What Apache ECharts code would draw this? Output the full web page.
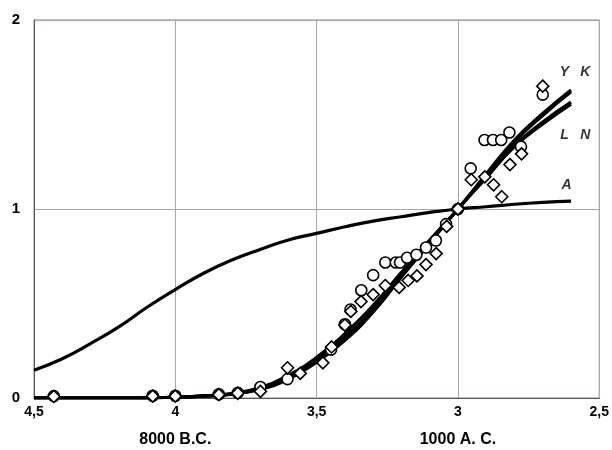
<!DOCTYPE html>
<html>
<head>
<meta charset="utf-8">
<script src="https://cdn.jsdelivr.net/npm/echarts@6/dist/echarts.min.js"></script>
<style>html,body{margin:0;padding:0;background:#fff;}#c{width:612px;height:450px;}</style>
</head>
<body>
<div id="c"></div>
<script>
// x positions of the model curves (log10 of years before present)
var curveX = [4.5,4.4,4.3,4.2,4.1,4.0,3.9,3.8,3.7,3.6,3.5,3.4,3.3,3.2,3.1,3.0,2.9,2.8,2.7,2.6];
var curveA = [0.147,0.208,0.288,0.376,0.48,0.574,0.66,0.73,0.786,0.836,0.871,0.906,0.936,0.959,0.982,1.0,1.012,1.025,1.035,1.042];
var curveY = [0,0,0,0,0.001,0.004,0.01,0.022,0.05,0.11,0.2,0.32,0.47,0.655,0.83,1.0,1.185,1.365,1.505,1.63];
var curveK = [0,0,0,0,0.001,0.004,0.01,0.021,0.048,0.105,0.195,0.31,0.46,0.645,0.825,1.0,1.18,1.355,1.495,1.62];
var curveL = [0,0,0,0,0.001,0.004,0.011,0.024,0.055,0.12,0.215,0.34,0.49,0.665,0.835,1.0,1.17,1.335,1.46,1.565];
var curveN = [0,0,0,0,0.001,0.004,0.01,0.02,0.046,0.1,0.19,0.305,0.455,0.64,0.82,1.0,1.165,1.33,1.45,1.555];

// observed data: circles
var circleX = [4.43,4.08,4.0,3.846,3.779,3.699,3.603,3.449,3.40,3.38,3.342,3.30,3.257,3.22,3.205,3.18,3.147,3.113,3.078,3.042,3.0,2.955,2.906,2.876,2.847,2.818,2.777,2.70];
var circleV = [0.01,0.012,0.012,0.02,0.027,0.058,0.10,0.256,0.39,0.468,0.57,0.65,0.717,0.717,0.717,0.742,0.758,0.796,0.833,0.92,1.0,1.215,1.365,1.365,1.365,1.405,1.33,1.605];
// observed data: diamonds
var diamondX = [4.43,4.08,4.0,3.846,3.779,3.699,3.603,3.558,3.478,3.447,3.40,3.379,3.343,3.30,3.257,3.208,3.176,3.145,3.113,3.077,3.04,3.0,2.953,2.905,2.874,2.845,2.816,2.775,2.70];
var diamondV = [0.008,0.01,0.01,0.018,0.025,0.035,0.16,0.13,0.186,0.27,0.386,0.458,0.51,0.547,0.595,0.585,0.622,0.646,0.706,0.764,0.908,1.0,1.155,1.17,1.128,1.065,1.235,1.292,1.65];

var xTicks = [4.5,4,3.5,3,2.5];
var yTicks = [0,1,2];
var eraLabels = [{x:4, text:'8000 B.C.'},{x:3, text:'1000 A. C.'}];
var curveLabels = [{name:'Y',x:2.623,y:1.724},{name:'K',x:2.549,y:1.724},{name:'L',x:2.623,y:1.39},{name:'N',x:2.549,y:1.39},{name:'A',x:2.616,y:1.124}];

function pairs(xs, ys){ return xs.map(function(x,i){ return [x, ys[i]]; }); }

var FONT = '"Liberation Sans", Arial, sans-serif';
var chart = echarts.init(document.getElementById('c'), null, {renderer:'canvas'});

function lineSeries(name, ys){
  return {
    name: name, type:'line', data: pairs(curveX, ys), smooth: true, showSymbol:false,
    lineStyle:{color:'#000', width:3.2}, z:2, silent:true, animation:false
  };
}

var option = {
  backgroundColor:'#fff',
  animation:false,
  grid:{left:34, right:11, top:20, bottom:52, show:true, borderColor:'#7b8b7b', borderWidth:1},
  xAxis:{
    type:'value', min:2.5, max:4.5, interval:0.5, inverse:true,
    axisLine:{show:true, lineStyle:{color:'#4d5d4d', width:1}},
    axisTick:{show:false},
    splitLine:{show:true, lineStyle:{color:'#a8a8a8', width:1}},
    axisLabel:{
      margin:7, color:'#000', fontSize:14, fontWeight:'bold', fontFamily:FONT,
      formatter:function(v){ return String(v).replace('.', ','); }
    }
  },
  yAxis:{
    type:'value', min:0, max:2, interval:1,
    axisLine:{show:true, lineStyle:{color:'#4d5d4d', width:1}},
    axisTick:{show:false},
    splitLine:{show:true, lineStyle:{color:'#a8a8a8', width:1}},
    axisLabel:{margin:14, color:'#000', fontSize:15, fontWeight:'bold', fontFamily:FONT}
  },
  series:[
    lineSeries('A', curveA),
    lineSeries('Y', curveY),
    lineSeries('K', curveK),
    lineSeries('L', curveL),
    lineSeries('N', curveN),
    {
      name:'circles', type:'scatter', data: pairs(circleX, circleV), symbol:'circle', symbolSize:11,
      itemStyle:{color:'#fff', borderColor:'#000', borderWidth:1.6, opacity:1}, z:5
    },
    {
      name:'diamonds', type:'scatter', data: pairs(diamondX, diamondV), symbol:'diamond', symbolSize:12,
      itemStyle:{color:'#fff', borderColor:'#000', borderWidth:1.6, opacity:1}, z:6
    },
    {
      name:'labels', type:'scatter', symbolSize:0, silent:true, z:7,
      data: curveLabels.map(function(d){ return {value:[d.x, d.y], name:d.name}; }),
      label:{show:true, position:'inside', formatter:'{b}', color:'#000', fontSize:14,
             fontWeight:'bold', fontStyle:'italic', fontFamily:FONT}
    }
  ]
};
chart.setOption(option);

// era labels under the axis, positioned from the axis scale
var gfx = eraLabels.map(function(e){
  var p = chart.convertToPixel({gridIndex:0}, [e.x, 0]);
  return {type:'text', x:p[0], y:p[1] + 42,
    style:{text:e.text, fill:'#000', font:'bold 16px ' + FONT, textAlign:'center', textVerticalAlign:'middle'}};
});
chart.setOption({graphic: gfx});
</script>
</body>
</html>
